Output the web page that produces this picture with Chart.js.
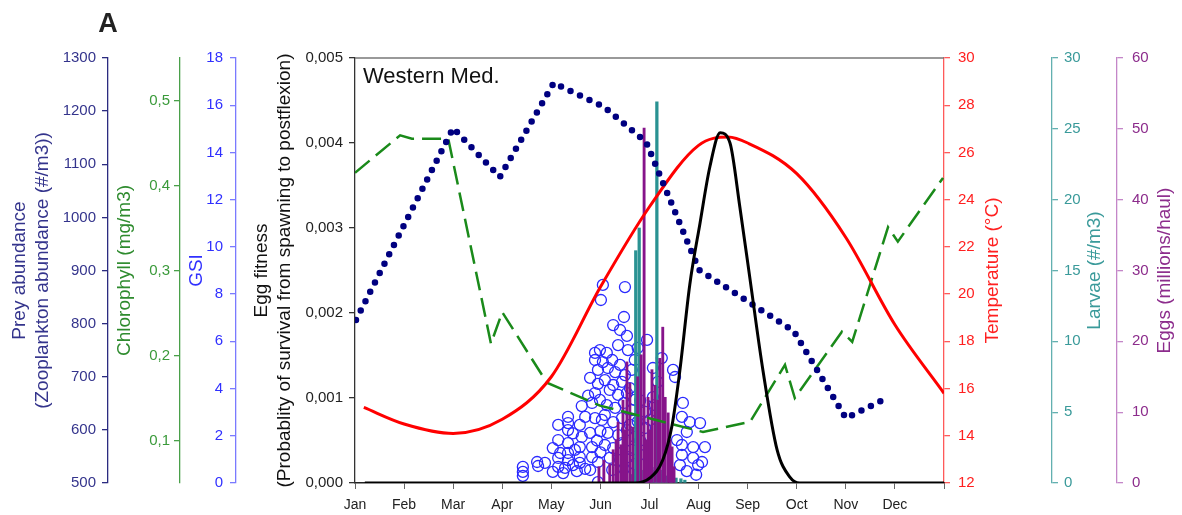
<!DOCTYPE html>
<html lang="en">
<head>
<meta charset="UTF-8">
<script src="https://cdn.jsdelivr.net/npm/chart.js"></script>
<title>Western Med.</title>
<style>
  html, body { margin: 0; padding: 0; background: #fff; }
  #wrap { width: 1182px; height: 515px; }
</style>
</head>
<body>
<div id="wrap"><canvas id="grafico"></canvas></div>
<script>
// months on the x axis (0 = 1 Jan, 12 = end of Dec)
const monthNames = ['Jan','Feb','Mar','Apr','May','Jun','Jul','Aug','Sep','Oct','Nov','Dec'];

// prey abundance (zooplankton, #/m3)
const preyMonth = [0.02, 2.0, 2.95, 4.05, 5.07, 5.93, 7.01, 8.94, 10.0, 10.84];
const preyValue = [807, 1168, 1076, 1253, 1208, 1142, 901, 786, 622, 660];

// chlorophyll (mg/m3)
const chlMonth = [0, 0.92, 1.16, 1.9, 2.77, 3.0, 3.91, 4.99, 7.09, 8.05, 8.76, 8.96, 9.92, 10.13, 10.86, 11.06, 11.98];
const chlValue = [0.415, 0.459, 0.455, 0.455, 0.214, 0.251, 0.168, 0.141, 0.110, 0.122, 0.189, 0.150, 0.228, 0.216, 0.351, 0.334, 0.409];

// temperature (°C)
const tempMonth = [0.18, 1, 2, 3, 4, 5, 6, 7, 7.6, 8, 9, 10, 11, 12];
const tempValue = [15.2, 14.5, 14.1, 14.7, 16.5, 20.3, 23.7, 26.3, 26.65, 26.4, 25.1, 22.4, 18.7, 15.8];

// egg fitness (probability of survival)
const fitMonth = [0.2, 5.7, 6.01, 6.27, 6.46, 6.62, 6.82, 7.03, 7.23, 7.44, 7.64, 7.84, 8.05, 8.31, 8.6, 8.86, 9.06, 12];
const fitValue = [0, 0, 0.00006, 0.00027, 0.00068, 0.00133, 0.00233, 0.00306, 0.00372, 0.00412, 0.0040, 0.00325, 0.00239, 0.00133, 0.00039, 0.00007, 0, 0];

// GSI observations
const gsiMonth = [3.42,3.42,3.42,3.71,3.73,3.87,4.03,4.03,4.14,4.14,4.14,4.14,4.18,4.24,4.28,4.34,4.34,4.34,4.34,4.34,
  4.34,4.44,4.44,4.58,4.58,4.58,4.58,4.62,4.62,4.69,4.79,4.79,4.79,4.83,4.83,4.83,4.89,4.89,4.89,4.89,
  4.95,4.95,4.99,5.03,4.95,4.93,5.00,5.00,5.05,5.01,5.50,5.26,5.48,5.40,5.54,5.36,5.95,5.76,5.56,4.99,
  5.13,5.05,5.24,5.40,5.70,5.15,5.30,5.50,5.64,5.09,5.26,5.44,5.60,5.19,5.36,5.54,5.70,5.13,5.30,5.48,
  5.64,5.81,5.09,5.26,5.44,5.60,5.76,5.15,5.36,5.54,5.70,5.09,5.26,5.44,5.64,5.81,5.19,5.40,5.56,5.24,
  5.48,5.70,5.91,6.25,6.07,6.48,6.52,6.17,6.07,5.91,5.91,6.01,6.11,6.68,6.66,6.82,7.03,6.76,6.56,6.66,
  6.89,7.13,6.66,6.89,7.07,6.62,6.99,6.76,6.95,4.48,4.69,4.75,4.95,4.52];
const gsiValue = [0.68,0.47,0.30,0.89,0.72,0.85,0.47,1.48,0.68,1.06,1.82,2.46,1.27,0.42,0.64,0.97,1.27,1.69,2.24,2.54,
  2.80,0.76,2.10,0.85,1.10,1.52,2.46,1.95,3.26,0.60,0.55,2.12,4.45,1.10,1.52,3.39,2.75,3.81,5.21,5.51,
  0.89,4.79,3.52,2.67,0.04,1.80,1.30,2.20,8.39,7.75,8.30,6.69,7.03,6.48,6.23,5.84,6.06,5.72,5.63,5.63,
  5.51,5.12,5.21,5.00,5.21,4.87,4.70,4.57,4.79,4.36,4.15,4.28,4.02,3.94,3.73,3.81,3.52,3.30,3.18,3.39,
  3.09,3.50,2.88,2.58,2.75,2.46,2.60,2.12,2.03,2.24,1.95,1.61,1.48,1.69,1.40,1.80,1.06,0.97,1.10,0.55,
  0.60,0.80,1.20,5.29,4.87,4.79,4.49,4.28,3.64,3.01,2.33,2.67,3.30,3.39,2.80,2.58,2.54,2.16,1.82,1.61,
  1.52,1.52,1.19,1.06,0.89,0.76,0.76,0.50,0.35,1.40,2.80,3.70,4.20,0.50];

// eggs (millions/haul)
const eggMonth = [4.97,5.07,5.19,5.26,5.32,5.36,5.42,5.46,5.50,5.54,5.60,5.66,5.76,5.83,5.89,5.93,5.97,6.01,6.05,6.11,6.17,6.21,6.27,6.32,6.38,6.42,6.46,6.50];
const eggValue = [2.3,3.2,2.7,4.7,6.1,8.6,5.4,11.7,7.5,17.1,14.1,7.9,15.0,18.1,50.1,6.1,12.1,7.5,16.0,13.8,11.7,17.6,22.0,12.1,9.9,6.1,5.1,2.3];

// larvae (#/m3)
const larvMonth = [5.64,5.70,5.72,5.79,5.83,5.91,5.97,6.05,6.11,6.15,6.21,6.27,6.34,6.44,6.54,6.64,6.72];
const larvValue = [0.6,0.9,16.4,18.0,0.9,0.8,1.2,1.1,0.9,26.9,0.6,0.9,0.5,0.35,0.35,0.3,0.2];

const pts = (xs, ys) => xs.map((x, i) => ({x: x, y: ys[i]}));
const fam = '"Liberation Sans", Arial, sans-serif';
Chart.defaults.font.family = fam;

const navy = '#34348c', green = '#3a9a3a', blue = '#3030ff', red = '#ff2020', teal = '#3a9a9a', purple = '#8c2c8c';

const fixW = w => s => { s.width = w; };

function yAxis(pos, weight, width, min, max, step, color, axisColor, pad, fmt) {
  return {
    type: 'linear', position: pos, weight: weight, min: min, max: max,
    afterFit: fixW(width),
    border: { color: axisColor, width: 1.3 },
    grid: { drawOnChartArea: false, color: axisColor, tickLength: 6, lineWidth: 1.3 },
    ticks: { stepSize: step, color: color, padding: pad, font: { size: 15 }, callback: fmt || (v => v) }
  };
}

const decor = {
  id: 'decor',
  afterDraw(chart) {
    const ctx = chart.ctx, a = chart.chartArea, s = chart.scales;
    const mid = (a.top + a.bottom) / 2;
    ctx.save();
    ctx.strokeStyle = '#777'; ctx.lineWidth = 1.5;
    ctx.beginPath(); ctx.moveTo(a.left, a.top); ctx.lineTo(a.right, a.top); ctx.stroke();

    const vtitle = (text, x, color) => {
      ctx.save();
      ctx.translate(x, mid);
      ctx.rotate(-Math.PI / 2);
      ctx.fillStyle = color;
      ctx.font = '19px ' + fam;
      ctx.textAlign = 'center';
      ctx.textBaseline = 'middle';
      ctx.fillText(text, 0, 0);
      ctx.restore();
    };
    vtitle('Prey abundance', s.yPrey.left + 20, navy);
    vtitle('(Zooplankton abundance (#/m3))', s.yPrey.left + 43, navy);
    vtitle('Chlorophyll (mg/m3)', s.yChl.left + 17, '#2e8b2e');
    vtitle('GSI', s.yGsi.left + 17, blue);
    vtitle('Egg fitness', s.yEgg.left + 26, '#111');
    vtitle('(Probablity of survival from spawning to postflexion)', s.yEgg.left + 49, '#111');
    vtitle('Temperature (°C)', s.yTemp.left + 49, red);
    vtitle('Larvae (#/m3)', s.yLarv.left + 43, teal);
    vtitle('Eggs (millions/haul)', s.yEggs.left + 48, purple);

    ctx.fillStyle = '#111';
    ctx.font = '22px ' + fam;
    ctx.textAlign = 'left'; ctx.textBaseline = 'middle';
    ctx.fillText('Western Med.', a.left + 8, a.top + 19);

    ctx.fillStyle = '#222';
    ctx.font = 'bold 27px ' + fam;
    ctx.textAlign = 'center';
    ctx.fillText('A', 108, 25);
    ctx.restore();
  }
};

new Chart(document.getElementById('grafico'), {
  type: 'line',
  data: {
    datasets: [
      { label: 'Egg fitness', data: pts(fitMonth, fitValue), yAxisID: 'yEgg', borderColor: '#000', borderWidth: 3,
        pointRadius: 0, cubicInterpolationMode: 'monotone', order: 1 },
      { label: 'Prey abundance', data: pts(preyMonth, preyValue), yAxisID: 'yPrey', borderColor: '#000080', borderWidth: 6.5,
        borderDash: [0, 10.5], borderCapStyle: 'round', pointRadius: 0, tension: 0, order: 2 },
      { label: 'Temperature', data: pts(tempMonth, tempValue), yAxisID: 'yTemp', borderColor: '#ff0000', borderWidth: 3,
        pointRadius: 0, cubicInterpolationMode: 'monotone', order: 3 },
      { label: 'Chlorophyll', data: pts(chlMonth, chlValue), yAxisID: 'yChl', borderColor: '#1a8a1a', borderWidth: 2.5,
        borderDash: [19, 8], pointRadius: 0, tension: 0, order: 4 },
      { type: 'bar', label: 'Eggs', data: pts(eggMonth, eggValue), yAxisID: 'yEggs', backgroundColor: '#86148a',
        barThickness: 2.2, grouped: false, order: 5 },
      { type: 'bar', label: 'Larvae', data: pts(larvMonth, larvValue), yAxisID: 'yLarv', backgroundColor: '#2a9292',
        barThickness: 2.6, grouped: false, order: 6 },
      { type: 'scatter', label: 'GSI', data: pts(gsiMonth, gsiValue), yAxisID: 'yGsi', pointRadius: 5.5,
        pointBorderColor: '#2a2aff', pointBackgroundColor: 'rgba(255,255,255,0)', pointBorderWidth: 1.3, showLine: false, order: 7 }
    ]
  },
  options: {
    responsive: true,
    maintainAspectRatio: false,
    animation: false,
    layout: { padding: { top: 58, left: 0, right: 0, bottom: 0 } },
    plugins: { legend: { display: false }, tooltip: { enabled: false } },
    scales: {
      x: {
        type: 'linear', position: 'bottom', min: 0, max: 12, offset: false,
        afterFit: s => { s.height = 32; },
        border: { color: '#222', width: 1.5 },
        grid: { drawOnChartArea: false, offset: false, color: '#666', tickLength: 6 },
        ticks: { stepSize: 1, maxRotation: 0, autoSkip: false, padding: 8, color: '#222', font: { size: 14 },
          callback: v => monthNames[v] || '' }
      },
      yEgg: yAxis('left', 0, 119, 0, 0.005, 0.001, '#222', '#333', 6, v => v.toFixed(3).replace('.', ',')),
      yGsi: yAxis('left', 1, 56, 0, 18, 2, blue, '#7a7aff', 7),
      yChl: Object.assign(yAxis('left', 2, 72, 0.05, 0.55, 0.1, green, '#4aa04a', 4, v => v.toFixed(1).replace('.', ',')),
        { afterBuildTicks: s => { s.ticks = [0.1, 0.2, 0.3, 0.4, 0.5].map(v => ({value: v})); } }),
      yPrey: yAxis('left', 3, 108, 500, 1300, 100, navy, '#2b2b80', 6),
      yTemp: yAxis('right', 0, 108, 12, 30, 2, red, '#ff5a5a', 8),
      yLarv: yAxis('right', 1, 65, 0, 30, 5, teal, '#62b0b0', 6),
      yEggs: yAxis('right', 2, 65, 0, 60, 10, purple, '#c486c8', 9)
    }
  },
  plugins: [decor]
});
</script>
</body>
</html>
